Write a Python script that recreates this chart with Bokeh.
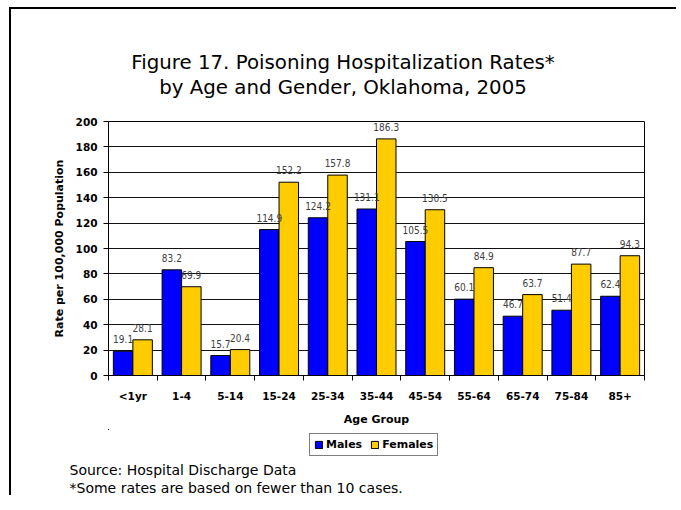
from bokeh.plotting import figure
from bokeh.layouts import column
from bokeh.models import (Range1d, FixedTicker, ColumnDataSource, Legend, LegendItem,
                          LabelSet, Title)
from bokeh.transform import dodge
from bokeh.core.properties import value
from bokeh.embed import file_html
from bokeh.resources import INLINE

categories = ["<1yr", "1-4", "5-14", "15-24", "25-34", "35-44", "45-54",
              "55-64", "65-74", "75-84", "85+"]
males = [19.1, 83.2, 15.7, 114.9, 124.2, 131.1, 105.5, 60.1, 46.7, 51.4, 62.4]
females = [28.1, 69.9, 20.4, 152.2, 157.8, 186.3, 130.5, 84.9, 63.7, 87.7, 94.3]
y_ticks = [0, 20, 40, 60, 80, 100, 120, 140, 160, 180, 200]
title_lines = ["Figure 17. Poisoning Hospitalization Rates*",
               "by Age and Gender, Oklahoma, 2005"]
note_lines = ["Source: Hospital Discharge Data",
              "*Some rates are based on fewer than 10 cases."]

FONT = "DejaVu Sans"
NARROW = "'Liberation Sans Narrow', 'DejaVu Sans Condensed', 'Liberation Sans'"
W = 665
FW = 536
BL, BR = 97, 32
MALE_C, FEMALE_C = "#0000FF", "#FFCC00"

centers = [i + 0.5 for i in range(len(categories))]
src = ColumnDataSource(dict(
    x=centers, males=males, females=females,
    mlab=["%.1f" % v for v in males], flab=["%.1f" % v for v in females]))


def strip(f):
    f.xgrid.visible = False
    f.ygrid.visible = False
    f.outline_line_color = None
    f.background_fill_color = "white"
    f.border_fill_color = "white"
    return f


# ---- heading ----
head = strip(figure(width=W, height=104, x_range=Range1d(0, FW), y_range=Range1d(104, 0),
                    output_backend="svg", toolbar_location=None,
                    x_axis_location=None, y_axis_location=None,
                    min_border_left=BL, min_border_right=BR,
                    min_border_top=0, min_border_bottom=0))
head.text(x=[234.5, 234.5], y=[53, 78], text=title_lines, text_align="center",
          text_baseline="alphabetic", text_font=value(FONT), text_font_size="19.8px",
          text_color="black")

# ---- main chart ----
p = figure(frame_width=FW, frame_height=254, x_range=Range1d(0, len(categories)),
           y_range=Range1d(0, 200), output_backend="svg", toolbar_location=None,
           min_border_left=BL, min_border_right=BR, min_border_top=8,
           min_border_bottom=54)
p.background_fill_color = "white"
p.border_fill_color = "white"
p.outline_line_color = "black"
p.outline_line_width = 1

p.vbar(x=dodge("x", -0.2, range=p.x_range), top="males", width=0.4, source=src,
       fill_color=MALE_C, line_color="black", line_width=1)
p.vbar(x=dodge("x", 0.2, range=p.x_range), top="females", width=0.4, source=src,
       fill_color=FEMALE_C, line_color="black", line_width=1)

for col, lab, off in (("males", "mlab", -0.2), ("females", "flab", 0.2)):
    p.add_layout(LabelSet(x=dodge("x", off, range=p.x_range), y=col, text=lab, source=src,
                          text_align="center", text_baseline="alphabetic", y_offset=8,
                          text_font=value(NARROW), text_font_size="10px",
                          text_color="#404040"))

p.xgrid.visible = False
p.ygrid.grid_line_color = "#111111"
p.ygrid.grid_line_width = 1
p.yaxis.ticker = FixedTicker(ticks=y_ticks)

p.xaxis.ticker = FixedTicker(ticks=centers, minor_ticks=list(range(len(categories) + 1)))
p.xaxis.major_label_overrides = {c: n for c, n in zip(centers, categories)}
p.xaxis.major_tick_out = 0
p.xaxis.major_tick_in = 0
p.xaxis.minor_tick_out = 5
p.xaxis.minor_tick_in = 0
p.xaxis.minor_tick_line_color = "black"
p.xaxis.major_label_standoff = 9
p.xaxis.axis_label = "Age Group"
p.xaxis.axis_label_standoff = 8

p.yaxis.major_tick_out = 5
p.yaxis.major_tick_in = 0
p.yaxis.minor_tick_line_color = None
p.yaxis.major_label_standoff = 6
p.yaxis.axis_label = "Rate per 100,000 Population"
p.yaxis.axis_label_standoff = 7

for ax in (p.xaxis, p.yaxis):
    ax.axis_line_color = "black"
    ax.major_tick_line_color = "black"
    ax.major_label_text_font = FONT
    ax.major_label_text_font_style = "bold"
    ax.major_label_text_font_size = "10.5px"
    ax.major_label_text_color = "black"
    ax.axis_label_text_font = FONT
    ax.axis_label_text_font_style = "bold"
    ax.axis_label_text_font_size = "11px"
    ax.axis_label_text_color = "black"

# ---- footer: legend + notes ----
# footer ranges lie far from the data so only the legend swatches of these bars show
foot = strip(figure(width=W, frame_height=30, x_range=Range1d(1000, 1011),
                    y_range=Range1d(-2000, -1000), output_backend="svg",
                    toolbar_location=None, x_axis_location=None, y_axis_location=None,
                    min_border_left=BL, min_border_right=BR,
                    min_border_top=0, min_border_bottom=0))
lm = foot.vbar(x="x", top="males", width=0.4, source=src, fill_color=MALE_C,
               line_color="black", line_width=1)
lf = foot.vbar(x="x", top="females", width=0.4, source=src, fill_color=FEMALE_C,
               line_color="black", line_width=1)
legend = Legend(items=[LegendItem(label="Males", renderers=[lm]),
                       LegendItem(label="Females", renderers=[lf])],
                orientation="horizontal", location=(201, 3),
                label_text_font=FONT, label_text_font_style="bold",
                label_text_font_size="11px", label_text_color="black",
                glyph_width=9, glyph_height=9, label_standoff=3, spacing=8,
                padding=4, margin=0, label_height=9,
                border_line_color="black", border_line_width=1,
                background_fill_color="white", background_fill_alpha=1)
foot.add_layout(legend)
for line in note_lines:
    foot.add_layout(Title(text=line, align="left", offset=-39, text_font=FONT,
                          text_font_size="14px", text_font_style="normal",
                          text_color="black", standoff=0), "below")

layout = column(head, p, foot, spacing=0)
layout.styles = {"margin-left": "9px", "margin-top": "7px",
                 "border-left": "2px solid #000", "border-top": "2px solid #000"}

open("out.html", "w").write(file_html(layout, INLINE))
